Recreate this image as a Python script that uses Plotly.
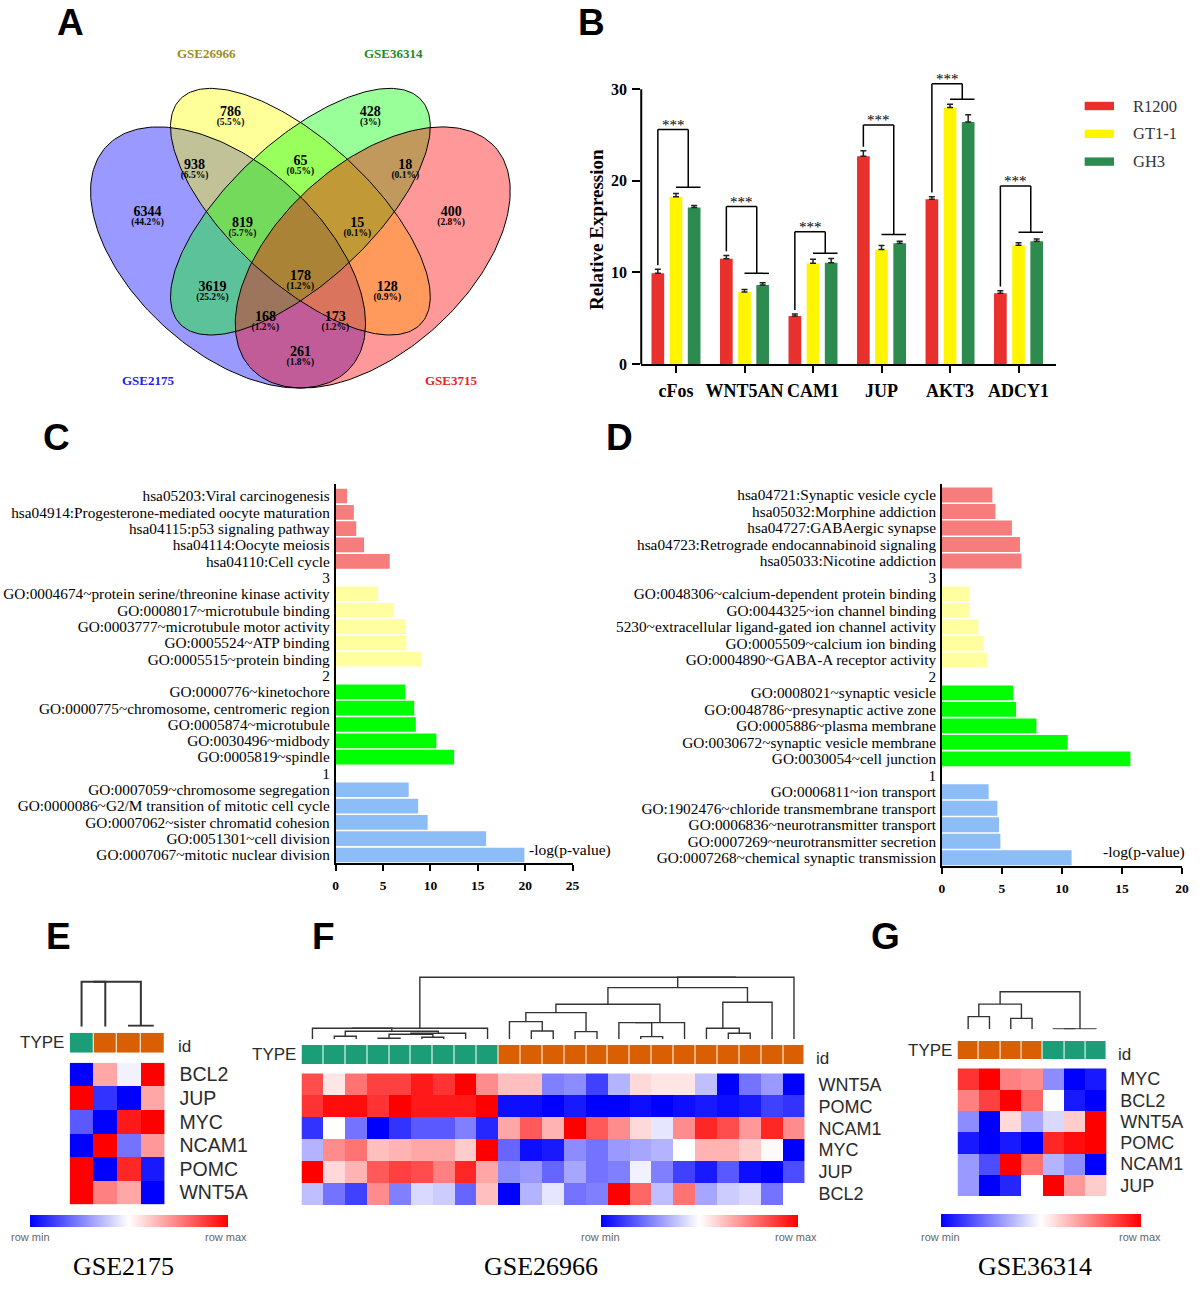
import numpy as np
import plotly.graph_objects as go

W, H = 1200, 1289
# The photographed page comes back very slightly reduced (about 0.993, centred horizontally),
# so reference pixel positions are mapped through that factor when placing things.
S, DX = 0.993, 4.2
SERIF = "Liberation Serif, Times New Roman, serif"
SANS = "Liberation Sans, Arial, sans-serif"

# ======================= DATA =======================
# A - Venn diagram
venn_sets = ["GSE2175", "GSE26966", "GSE36314", "GSE3715"]
venn_counts = [6344, 786, 428, 400, 938, 65, 18, 819, 15, 178, 3619, 128, 168, 173, 261]

# B - qPCR relative expression
genes = ["cFos", "WNT5AN", "CAM1", "JUP", "AKT3", "ADCY1"]
cell_lines = ["R1200", "GT1-1", "GH3"]
r1200 = [9.9, 11.5, 5.24, 22.7, 17.98, 7.72]
gt11 = [18.27, 7.86, 11.0, 12.5, 28.0, 12.96]
gh3 = [17.1, 8.63, 11.07, 13.18, 26.43, 13.4]
r1200_err = [0.44, 0.36, 0.22, 0.58, 0.29, 0.29]
gt11_err = [0.36, 0.29, 0.44, 0.44, 0.36, 0.29]
gh3_err = [0.22, 0.25, 0.44, 0.22, 0.80, 0.25]
sig_top = [25.6, 17.2, 14.45, 26.1, 30.6, 19.45]
sig_right = [19.3, 9.9, 12.1, 14.15, 28.9, 14.4]
sig_text = ["***"] * 6

# C - enrichment (set 1)
group_labels = ["3", "2", "1"]
C_kegg_terms = ["hsa05203:Viral carcinogenesis", "hsa04914:Progesterone-mediated oocyte maturation",
                "hsa04115:p53 signaling pathway", "hsa04114:Oocyte meiosis", "hsa04110:Cell cycle"]
C_kegg_vals = [1.21, 1.92, 2.17, 3.0, 5.71]
C_mf_terms = ["GO:0004674~protein serine/threonine kinase activity", "GO:0008017~microtubule binding",
              "GO:0003777~microtubule motor activity", "GO:0005524~ATP binding", "GO:0005515~protein binding"]
C_mf_vals = [4.46, 6.17, 7.38, 7.46, 9.04]
C_cc_terms = ["GO:0000776~kinetochore", "GO:0000775~chromosome, centromeric region",
              "GO:0005874~microtubule", "GO:0030496~midbody", "GO:0005819~spindle"]
C_cc_vals = [7.33, 8.29, 8.46, 10.63, 12.5]
C_bp_terms = ["GO:0007059~chromosome segregation", "GO:0000086~G2/M transition of mitotic cell cycle",
              "GO:0007062~sister chromatid cohesion", "GO:0051301~cell division",
              "GO:0007067~mitotic nuclear division"]
C_bp_vals = [7.71, 8.71, 9.71, 15.88, 19.92]

# D - enrichment (set 2)
D_kegg_terms = ["hsa04721:Synaptic vesicle cycle", "hsa05032:Morphine addiction", "hsa04727:GABAergic synapse",
                "hsa04723:Retrograde endocannabinoid signaling", "hsa05033:Nicotine addiction"]
D_kegg_vals = [4.2, 4.46, 5.83, 6.5, 6.62]
D_mf_terms = ["GO:0048306~calcium-dependent protein binding", "GO:0044325~ion channel binding",
              "5230~extracellular ligand-gated ion channel activity", "GO:0005509~calcium ion binding",
              "GO:0004890~GABA-A receptor activity"]
D_mf_vals = [2.26, 2.32, 3.03, 3.44, 3.76]
D_cc_terms = ["GO:0008021~synaptic vesicle", "GO:0048786~presynaptic active zone", "GO:0005886~plasma membrane",
              "GO:0030672~synaptic vesicle membrane", "GO:0030054~cell junction"]
D_cc_vals = [5.92, 6.18, 7.87, 10.48, 15.7]
D_bp_terms = ["GO:0006811~ion transport", "GO:1902476~chloride transmembrane transport",
              "GO:0006836~neurotransmitter transport", "GO:0007269~neurotransmitter secretion",
              "GO:0007268~chemical synaptic transmission"]
D_bp_vals = [3.89, 4.62, 4.75, 4.87, 10.8]

# E - GSE2175 heatmap (row-scaled, -1 = row min, 1 = row max)
E_rows = ["BCL2", "JUP", "MYC", "NCAM1", "POMC", "WNT5A"]
E_type = [0, 1, 1, 1]
E_z = [[-1.0, 0.35, -0.05, 1.0],
       [1.0, -0.8, -1.0, 0.35],
       [-0.65, -1.0, 0.9, 1.0],
       [-1.0, 1.0, -0.55, 0.4],
       [1.0, -1.0, 0.85, -0.9],
       [1.0, 0.5, 0.35, -1.0]]
E_link = [(2, 3, 1), (0, 1, 45), (5, 4, 45)]

# F - GSE26966 heatmap
F_rows = ["WNT5A", "POMC", "NCAM1", "MYC", "JUP", "BCL2"]
F_type = [0] * 9 + [1] * 14
F_z = [
    [0.7, 0.1, 0.55, 0.75, 0.75, 0.9, 0.8, 1.0, 0.45, 0.25, 0.25, -0.5, -0.45, -0.75, -0.3, 0.15, 0.1, 0.1,
     -0.25, -1.0, -0.55, -0.4, -1.0],
    [0.8, 0.95, 0.95, 0.8, 1.0, 0.9, 0.9, 0.9, 1.0, -0.95, -0.95, -1.0, -0.9, -1.0, -1.0, -0.95, -1.0, -0.95,
     -0.9, -0.95, -0.9, -0.75, -0.8],
    [-0.8, 0.0, -0.55, -1.0, -0.8, -0.65, -0.65, -0.5, -0.85, 0.35, 0.65, 0.3, 1.0, 0.65, 0.45, 0.15, -0.1,
     0.45, 0.85, 0.7, 0.4, 0.85, 0.45],
    [-0.3, 0.45, 0.55, 0.25, 0.3, 0.35, 0.35, 0.2, 1.0, -0.6, -0.95, -0.9, -0.45, -0.55, -0.4, -0.35, -0.3,
     0.0, 0.3, 0.3, 0.2, 0.02, -1.0],
    [1.0, 0.15, 0.3, 0.65, 0.75, 0.7, 0.5, 0.85, 0.35, -0.45, -0.4, -0.6, -0.35, -0.55, -0.5, -0.05, -0.5,
     -0.75, -0.9, -0.65, -0.95, -1.0, -0.7],
    [-0.25, -0.55, -0.75, 0.45, -0.5, -0.15, -0.2, -0.6, 0.25, -1.0, -0.3, -0.1, -0.55, -0.5, 1.0, 0.6, -0.25,
     0.55, -0.35, -0.2, -0.15, -0.55, 0.0]]
F_link = [(1, 2, 3), (3, 4, 1), (5, 6, 2), (24, 25, 5), (26, 7, 6), (23, 27, 8), (0, 28, 11), (29, 8, 11),
          (10, 11, 8.3), (9, 31, 17.7), (12, 13, 7.7), (32, 33, 26.7), (15, 16, 2.7), (14, 35, 16.7),
          (36, 17, 16.7), (34, 37, 35), (19, 20, 6), (18, 39, 11), (40, 21, 37), (38, 41, 51.7),
          (42, 22, 62), (30, 43, 62)]

# G - GSE36314 heatmap
G_rows = ["MYC", "BCL2", "WNT5A", "POMC", "NCAM1", "JUP"]
G_type = [1, 1, 1, 1, 0, 0, 0]
G_z = [[0.8, 1.0, 0.5, 0.45, -0.45, -1.0, -0.9],
       [0.5, 0.75, 1.0, 0.6, 0.0, -0.9, -1.0],
       [-0.45, -1.0, 0.15, -0.35, -0.15, 0.2, 1.0],
       [-0.9, -1.0, -0.9, -1.0, 0.85, 0.95, 1.0],
       [-0.4, -0.7, 1.0, 0.55, -0.3, -0.45, -1.0],
       [-0.4, -1.0, -0.85, 0.0, 1.0, 0.4, 0.2]]
G_link = [(0, 1, 12.7), (2, 3, 11), (7, 8, 25.3), (4, 5, 0.3), (10, 6, 0.3), (9, 11, 37.7)]

# ======================= STYLE / LAYOUT =======================
venn_fill = ["rgba(0,0,255,0.4)", "rgba(255,255,0,0.4)", "rgba(0,255,0,0.4)", "rgba(255,0,0,0.4)"]
venn_label_colors = ["#2222EE", "#9B8B25", "#1E8C1E", "#E82222"]
venn_label_px = [(150, 380), (208, 53), (395, 53), (453, 380)]
venn_geom = [(0.35, 0.47, 0.35, 0.20, -45), (0.50, 0.57, 0.35, 0.15, -45),
             (0.50, 0.57, 0.35, 0.15, 45), (0.65, 0.47, 0.35, 0.20, 45)]
venn_region_px = [(149, 212), (232, 112), (372, 112), (453, 212), (196, 165), (302, 161), (407, 165),
                  (244, 223), (359, 223), (302, 276), (214, 287), (389, 287), (267, 317), (337, 317),
                  (302, 352)]
bar_colors = ["#E8302C", "#FFF500", "#2E8B50"]
enrich_colors = ["#F77C7C", "#FFFFA0", "#00FF00", "#8DBDF7"]
type_colors = ["#1B9E77", "#D95F02"]
heat_scale = [[0, "#0000FF"], [0.5, "#FFFFFF"], [1, "#FF0000"]]


def px(x):
    return ((x - DX) / S) / W


def py(y):
    return 1 - (y / S) / H


def xd(a, b):
    return [px(a), px(b)]


def yd(top, bottom):
    return [py(bottom), py(top)]


def lin(d0, p0, d1, p1, q):
    return d0 + (q - p0) * (d1 - d0) / (p1 - p0)


fig = go.Figure()
axes = {}
annotations = []
shapes = []


def add_axes(n, xdom, ydom, xr, yr, xkw=None, ykw=None):
    xs = "x" if n == 1 else f"x{n}"
    ys = "y" if n == 1 else f"y{n}"
    base = dict(showgrid=False, zeroline=False, showline=False, showticklabels=False, ticks="",
                fixedrange=True)
    xa = dict(base, domain=xdom, range=xr, anchor=ys)
    ya = dict(base, domain=ydom, range=yr, anchor=xs)
    if xkw:
        xa.update(xkw)
    if ykw:
        ya.update(ykw)
    axes["xaxis" if n == 1 else f"xaxis{n}"] = xa
    axes["yaxis" if n == 1 else f"yaxis{n}"] = ya
    return xs, ys


def letter(t, x, y, top=False):
    annotations.append(dict(text=f"<b>{t}</b>", x=px(x), y=1.0 if top else py(y), xref="paper", yref="paper",
                            xanchor="center", yanchor="top" if top else "middle", showarrow=False,
                            font=dict(family=SANS, size=37, color="black")))


def ptext(t, x, y, size, color="black", family=SERIF, xanchor="center", angle=0, bold=False):
    annotations.append(dict(text=f"<b>{t}</b>" if bold else t, x=px(x), y=py(y), xref="paper",
                            yref="paper", showarrow=False, xanchor=xanchor, yanchor="middle",
                            textangle=angle, font=dict(family=family, size=size, color=color)))


# ======================= A: VENN =======================
def vu(x):
    return 0.5 + (x - 302) / 483


def vv(y):
    return 0.185 + (388 - y) / 458


vx, vy = add_axes(1, xd(60, 544), yd(40, 400), [vu(60), vu(544)], [vv(400), vv(40)])
t = np.linspace(0, 2 * np.pi, 241)
ell = []
for (cx, cy, a, b, rot) in venn_geom:
    th = np.radians(rot)
    ex = cx + a * np.cos(t) * np.cos(th) - b * np.sin(t) * np.sin(th)
    ey = cy + a * np.cos(t) * np.sin(th) + b * np.sin(t) * np.cos(th)
    ell.append((ex, ey))
for (ex, ey), col in zip(ell, venn_fill):
    fig.add_trace(go.Scatter(x=ex, y=ey, mode="lines", fill="toself", fillcolor=col,
                             line=dict(width=0), hoverinfo="skip", xaxis=vx, yaxis=vy))
for ex, ey in ell:
    fig.add_trace(go.Scatter(x=ex, y=ey, mode="lines", line=dict(color="black", width=1),
                             hoverinfo="skip", xaxis=vx, yaxis=vy))
total = sum(venn_counts)
pcts = [f"({round(100 * c / total, 1):g}%)" for c in venn_counts]
fig.add_trace(go.Scatter(x=[vu(p[0]) for p in venn_region_px], y=[vv(p[1]) for p in venn_region_px],
                         mode="text", text=[f"<b>{c}</b>" for c in venn_counts],
                         textfont=dict(family=SERIF, size=14, color="black"),
                         hoverinfo="skip", xaxis=vx, yaxis=vy))
fig.add_trace(go.Scatter(x=[vu(p[0]) for p in venn_region_px], y=[vv(p[1] + 11) for p in venn_region_px],
                         mode="text", text=[f"<b>{s}</b>" for s in pcts],
                         textfont=dict(family=SERIF, size=9.5, color="black"),
                         hoverinfo="skip", xaxis=vx, yaxis=vy))
for name, col, (lx, ly) in zip(venn_sets, venn_label_colors, venn_label_px):
    ptext(name, lx, ly, 13, color=col, bold=True)
letter("A", 72, 20, top=True)

# ======================= B: BARS =======================
b_left, b_right, b_top, b_bot = 643.3, 1059, 80.1, 364
g0, gstep = 678.1, 68.6
bx, by = add_axes(
    2, xd(b_left, b_right), yd(b_top, b_bot),
    [lin(0, g0, 1, g0 + gstep, b_left), lin(0, g0, 1, g0 + gstep, b_right)],
    [0, lin(0, 364, 30, 89.3, b_top)],
    xkw=dict(showline=True, linecolor="black", linewidth=2, ticks="outside", ticklen=7, tickwidth=2,
             tickcolor="black", showticklabels=True, tickvals=list(range(len(genes))), ticktext=genes,
             tickfont=dict(family=SERIF, size=18, color="black", weight="bold"), ticklabelstandoff=2),
    ykw=dict(ticks="outside", ticklen=8, tickwidth=2, tickcolor="black", showticklabels=True,
             tickvals=[0, 10, 20, 30], tickfont=dict(family=SERIF, size=16, color="black", weight="bold"),
             ticklabelstandoff=2))
slot, bw = 0.265, 0.185
series = [r1200, gt11, gh3]
errs = [r1200_err, gt11_err, gh3_err]
for k, (name, vals, er, col) in enumerate(zip(cell_lines, series, errs, bar_colors)):
    fig.add_trace(go.Bar(x=list(range(len(genes))), y=vals, name=name, width=bw,
                         offset=(k - 1) * slot - bw / 2, marker=dict(color=col, line=dict(width=0)),
                         error_y=dict(type="data", array=er, arrayminus=[0] * len(er), symmetric=False,
                                      color="#222", thickness=1.5, width=3),
                         xaxis=bx, yaxis=by, hoverinfo="skip"))
# y axis line from 0 to 30
shapes.append(dict(type="line", xref="paper", yref="paper", x0=px(b_left), x1=px(b_left),
                   y0=py(364), y1=py(89.3), line=dict(color="black", width=2)))
# significance brackets
for i in range(len(genes)):
    xr_ = i - slot
    xg_end = i + slot + bw / 2
    xj = (i + xg_end) / 2
    left_low = r1200[i] + r1200_err[i] + 0.45
    lc = dict(color="black", width=1.5)
    shapes.append(dict(type="line", xref=bx, yref=by, x0=xr_, x1=xr_, y0=left_low, y1=sig_top[i], line=lc))
    shapes.append(dict(type="line", xref=bx, yref=by, x0=xr_, x1=xj, y0=sig_top[i], y1=sig_top[i], line=lc))
    shapes.append(dict(type="line", xref=bx, yref=by, x0=xj, x1=xj, y0=sig_top[i], y1=sig_right[i], line=lc))
    shapes.append(dict(type="line", xref=bx, yref=by, x0=i, x1=xg_end, y0=sig_right[i], y1=sig_right[i],
                       line=lc))
    annotations.append(dict(text=sig_text[i], x=(xr_ + xj) / 2, y=sig_top[i], xref=bx, yref=by,
                            showarrow=False, yanchor="middle", yshift=5,
                            font=dict(family=SERIF, size=15, color="black")))
ptext("Relative Expression", 598, 230, 19, angle=-90, bold=True)
for k, (name, col) in enumerate(zip(cell_lines, bar_colors)):
    yc = 106 + k * 27.8
    shapes.append(dict(type="rect", xref="paper", yref="paper", x0=px(1087.3), x1=px(1116.7),
                       y0=py(yc + 4.2), y1=py(yc - 4.2), fillcolor=col, line=dict(width=0)))
    ptext(name, 1133.3, yc, 16.5, color="#333", xanchor="left")
letter("B", 593, 20, top=True)


# ======================= C / D: ENRICHMENT =======================
def enrich(n, groups, x_l, x_r, xmax, row0, row_last, y_top, y_bot, lab_xy):
    rows = []
    per_group = []
    r = 0
    for gi, (terms, vals) in enumerate(groups):
        gy = []
        for term in terms:
            rows.append(term)
            gy.append(r)
            r += 1
        per_group.append((gy, vals))
        if gi < len(group_labels):
            rows.append(group_labels[gi])
            r += 1
    nrow = len(rows)
    xs, ys = add_axes(
        n, xd(x_l, x_r), yd(y_top, y_bot), [0, xmax],
        [lin(0, row0, nrow - 1, row_last, y_bot), lin(0, row0, nrow - 1, row_last, y_top)],
        xkw=dict(showline=True, linecolor="black", linewidth=1.6, ticks="outside", ticklen=6, tickwidth=1.6,
                 tickcolor="black", showticklabels=True, tickvals=list(range(0, xmax + 1, 5)),
                 tickfont=dict(family=SERIF, size=13.5, color="black", weight="bold"), ticklabelstandoff=3),
        ykw=dict(showline=True, linecolor="black", linewidth=1.6, showticklabels=True,
                 tickvals=list(range(nrow)), ticktext=rows,
                 tickfont=dict(family=SERIF, size=15.3, color="black"), ticklabelstandoff=1))
    for (gy, vals), col in zip(per_group, enrich_colors):
        fig.add_trace(go.Bar(x=vals, y=gy, orientation="h", width=0.9, marker=dict(color=col, line=dict(width=0)),
                             xaxis=xs, yaxis=ys, hoverinfo="skip"))
    ptext("-log(p-value)", lab_xy[0], lab_xy[1], 15.5)


enrich(3, [(C_kegg_terms, C_kegg_vals), (C_mf_terms, C_mf_vals), (C_cc_terms, C_cc_vals),
           (C_bp_terms, C_bp_vals)], 337.3, 574.5, 25, 496, 855, 484, 863.3, (572, 850))
enrich(4, [(D_kegg_terms, D_kegg_vals), (D_mf_terms, D_mf_vals), (D_cc_terms, D_cc_vals),
           (D_bp_terms, D_bp_vals)], 944.4, 1184.8, 20, 495, 857.7, 484, 866, (1147, 852))
letter("C", 58, 437)
letter("D", 622, 437)


# ======================= E / F / G: HEATMAPS =======================
def heat(n0, rows, z, types, link, g):
    ncol = len(types)
    l, r = g["hx"]
    ht, hb = g["hy"]
    xr = [-0.5, ncol - 0.5]
    hx, hy = add_axes(n0, xd(l, r), yd(ht, hb), xr, [len(rows) - 0.5, -0.5],
                      ykw=dict(side="right", showticklabels=True, tickvals=list(range(len(rows))),
                               ticktext=rows, ticks="outside", ticklen=g["gap"],
                               tickcolor="rgba(0,0,0,0)",
                               tickfont=dict(family=SANS, size=g["fs"], color="#2b2b2b")))
    cl, cr, ct, cb = g["cb"]
    fig.add_trace(go.Heatmap(z=z, x=list(range(ncol)), y=list(range(len(rows))), colorscale=heat_scale,
                             zmin=-1, zmax=1, xaxis=hx, yaxis=hy, hoverinfo="skip",
                             colorbar=dict(orientation="h", x=px(cl), xanchor="left", y=py(ct), yanchor="top",
                                           len=(cr - cl) / S, lenmode="pixels", thickness=(cb - ct) / S,
                                           thicknessmode="pixels", outlinewidth=0, showticklabels=False,
                                           ticks="", xpad=0, ypad=0)))
    tt, tb = g["ty"]
    tx, ty = add_axes(n0 + 1, xd(l, r), yd(tt, tb), xr, [-0.5, 0.5])
    fig.add_trace(go.Heatmap(z=[types], x=list(range(ncol)), y=[0], colorscale=[[0, type_colors[0]],
                             [1, type_colors[1]]], zmin=0, zmax=1, showscale=False, xgap=1,
                             xaxis=tx, yaxis=ty, hoverinfo="skip"))
    dtop, dbase = g["dy"]
    hmax = link[-1][2]
    dx, dy = add_axes(n0 + 2, xd(l, r), yd(dtop - 4, dbase), xr,
                      [0, lin(0, dbase, hmax, dtop, dtop - 4)])
    pos = {i: float(i) for i in range(ncol)}
    hh = {i: 0.0 for i in range(ncol)}
    lx, ly = [], []
    for k, (a, b, h) in enumerate(link):
        lx += [pos[a], pos[a], pos[b], pos[b], None]
        ly += [hh[a], h, h, hh[b], None]
        pos[ncol + k] = (pos[a] + pos[b]) / 2
        hh[ncol + k] = h
    fig.add_trace(go.Scatter(x=lx, y=ly, mode="lines", line=dict(color="#333", width=g["lw"]),
                             xaxis=dx, yaxis=dy, hoverinfo="skip"))
    ptext("TYPE", l - 4, (tt + tb) / 2, 17, color="#2b2b2b", family=SANS, xanchor="right")
    ptext("id", g["idx"], (tt + tb) / 2 + 4, 17, color="#2b2b2b", family=SANS, xanchor="left")
    ptext("row min", cl, 1237, 11, color="#666", family=SANS)
    ptext("row max", cr, 1237, 11, color="#666", family=SANS)
    ptext(g["title"], g["tx"], 1266, 26)


heat(5, E_rows, E_z, E_type, E_link,
     dict(hx=(71, 166), hy=(1062.7, 1204.3), ty=(1032.7, 1052.7), dy=(981.7, 1026.7), cb=(31.7, 228, 1215, 1227),
          gap=10, fs=19.5, lw=2, idx=177, title="GSE2175", tx=125))
heat(8, F_rows, F_z, F_type, F_link,
     dict(hx=(303.1, 807.2), hy=(1073.3, 1205), ty=(1045, 1064), dy=(977.3, 1039.3), cb=(602.8, 798, 1215, 1227),
          gap=9, fs=18, lw=1.4, idx=816, title="GSE26966", tx=543))
heat(11, G_rows, G_z, G_type, G_link,
     dict(hx=(960, 1109.3), hy=(1068.3, 1196), ty=(1041, 1059), dy=(991.7, 1029.3), cb=(943.3, 1142.3, 1214, 1227),
          gap=9, fs=18, lw=1.4, idx=1119, title="GSE36314", tx=1038))
letter("E", 60, 936)
letter("F", 325, 936)
letter("G", 888, 936)

fig.update_layout(width=W, height=H, margin=dict(l=0, r=0, t=0, b=0), paper_bgcolor="white",
                  plot_bgcolor="rgba(0,0,0,0)", showlegend=False, barmode="overlay", hovermode=False,
                  font=dict(family=SERIF, color="black"), annotations=annotations, shapes=shapes, **axes)
# remove the browser's default 8px page margin so the figure sits at the window's top-left corner
fig.write_html("out.html", config={"displayModeBar": False},
               post_script="document.body.style.margin='0px';document.body.style.overflow='hidden';")
